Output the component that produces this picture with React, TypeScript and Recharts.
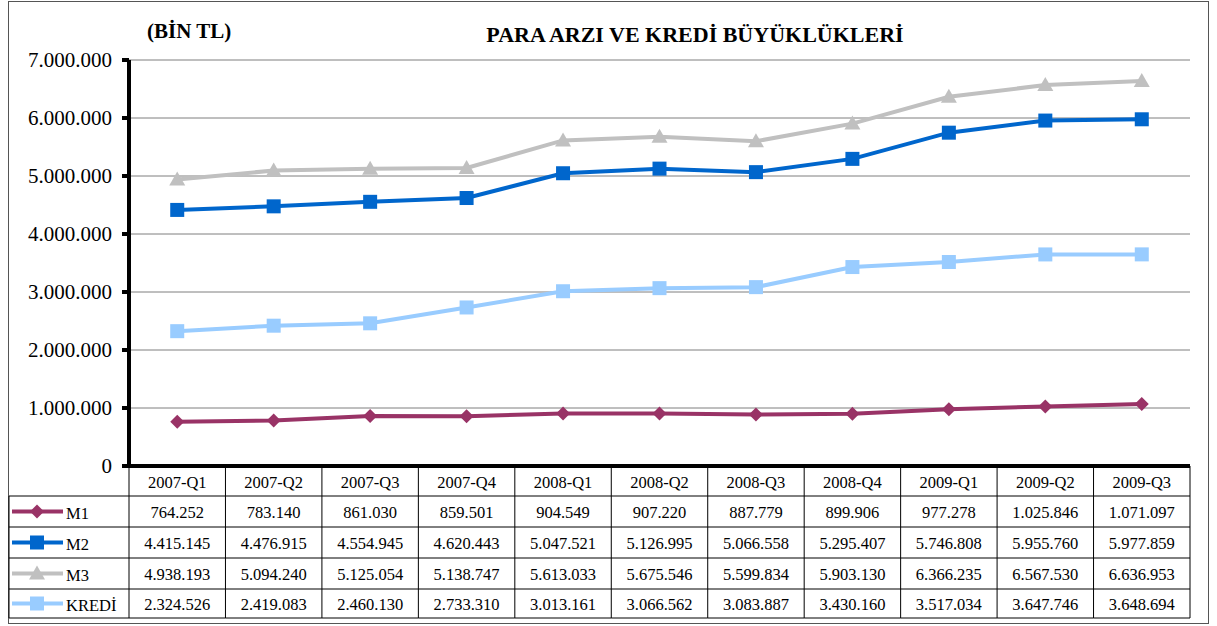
import React from 'react';
import { ComposedChart, Line, XAxis, YAxis, CartesianGrid } from 'recharts';

const quarters = ['2007-Q1', '2007-Q2', '2007-Q3', '2007-Q4', '2008-Q1', '2008-Q2', '2008-Q3', '2008-Q4', '2009-Q1', '2009-Q2', '2009-Q3'];
const m1 = [764252, 783140, 861030, 859501, 904549, 907220, 887779, 899906, 977278, 1025846, 1071097];
const m2 = [4415145, 4476915, 4554945, 4620443, 5047521, 5126995, 5066558, 5295407, 5746808, 5955760, 5977859];
const m3 = [4938193, 5094240, 5125054, 5138747, 5613033, 5675546, 5599834, 5903130, 6366235, 6567530, 6636953];
const kredi = [2324526, 2419083, 2460130, 2733310, 3013161, 3066562, 3083887, 3430160, 3517034, 3647746, 3648694];
const yTicks = [0, 1000000, 2000000, 3000000, 4000000, 5000000, 6000000, 7000000];

const series = [
    { key: 'M1', label: 'M1', values: m1, color: '#993366', shape: 'diamond' },
    { key: 'M2', label: 'M2', values: m2, color: '#0066CC', shape: 'square' },
    { key: 'M3', label: 'M3', values: m3, color: '#C0C0C0', shape: 'triangle' },
    { key: 'KREDI', label: 'KREDİ', values: kredi, color: '#99CCFF', shape: 'square' },
];

const data = quarters.map((q, i) => ({ q, M1: m1[i], M2: m2[i], M3: m3[i], KREDI: kredi[i] }));

const fmt = (n: number) => String(n).replace(/\B(?=(\d{3})+(?!\d))/g, '.');

const FONT = "'Liberation Serif', serif";
const PLOT_LEFT = 129;
const PLOT_RIGHT = 1190;
const COL_W = (PLOT_RIGHT - PLOT_LEFT) / quarters.length;
const TABLE_LEFT = 9;
const ROWS = [0, 30, 61, 92, 123, 152];

function marker(shape: string, color: string, cx: number, cy: number, key?: any) {
    if (shape === 'diamond') {
        return <polygon key={key} points={`${cx},${cy - 7} ${cx + 7},${cy} ${cx},${cy + 7} ${cx - 7},${cy}`} fill={color} />;
    }
    if (shape === 'triangle') {
        return <polygon key={key} points={`${cx},${cy - 8} ${cx + 8},${cy + 6} ${cx - 8},${cy + 6}`} fill={color} />;
    }
    return <rect key={key} x={cx - 7} y={cy - 7} width={14} height={14} fill={color} />;
}

const makeDot = (shape: string, color: string) => (props: any) => {
    const { cx, cy, index } = props;
    return marker(shape, color, cx, cy, `d-${index}`);
};

// x-axis ticks draw the data table below the plot, one column per quarter
const TableTick = (props: any) => {
    const { x, y, payload, index } = props;
    const i = payload?.index ?? index;
    const left = x - COL_W / 2;
    const right = x + COL_W / 2;
    const line = { stroke: '#000', strokeWidth: 1 };
    return (
        <g>
            <line x1={left} y1={y} x2={left} y2={y + ROWS[5]} {...line} />
            {i === quarters.length - 1 && <line x1={right} y1={y} x2={right} y2={y + ROWS[5]} {...line} />}
            {ROWS.slice(1).map((r) => (
                <line key={r} x1={left} y1={y + r} x2={right} y2={y + r} {...line} />
            ))}
            <text x={x} y={y + 16} textAnchor="middle" dominantBaseline="central" fontSize={16.5} fill="#000" fontFamily={FONT}>
                {payload.value}
            </text>
            {series.map((s, k) => (
                <text key={s.key} x={x} y={y + (ROWS[k + 1] + ROWS[k + 2]) / 2 + 1} textAnchor="middle" dominantBaseline="central" fontSize={16.5} fill="#000" fontFamily={FONT}>
                    {fmt(s.values[i])}
                </text>
            ))}
            {i === 0 && (
                <g>
                    <line x1={TABLE_LEFT} y1={y + ROWS[1]} x2={TABLE_LEFT} y2={y + ROWS[5]} {...line} />
                    {ROWS.slice(1).map((r) => (
                        <line key={r} x1={TABLE_LEFT} y1={y + r} x2={left} y2={y + r} {...line} />
                    ))}
                    {series.map((s, k) => {
                        const cy = y + (ROWS[k + 1] + ROWS[k + 2]) / 2;
                        return (
                            <g key={s.key}>
                                <line x1={12} y1={cy} x2={63} y2={cy} stroke={s.color} strokeWidth={4} />
                                {marker(s.shape, s.color, 37, cy)}
                                <text x={66} y={cy + 2} dominantBaseline="central" fontSize={16.5} fill="#000" fontFamily={FONT}>
                                    {s.label}
                                </text>
                            </g>
                        );
                    })}
                </g>
            )}
        </g>
    );
};

export default function App() {
    return (
        <div style={{ position: 'absolute', left: 0, top: 0, width: 1217, height: 626, background: '#fff', fontFamily: FONT }}>
            <div style={{ position: 'absolute', left: 8, top: 1, width: 1199, height: 621, border: '1px solid #555' }} />
            <svg width={1217} height={60} style={{ position: 'absolute', left: 0, top: 0 }}>
                <text x={147} y={38} fontSize={21} fontWeight="bold" fontFamily={FONT} fill="#000">(BİN TL)</text>
                <text x={695} y={42} textAnchor="middle" fontSize={22} fontWeight="bold" fontFamily={FONT} fill="#000">
                    PARA ARZI VE KREDİ BÜYÜKLÜKLERİ
                </text>
            </svg>
            <div style={{ position: 'absolute', left: 0, top: 0 }}>
                <ComposedChart width={1217} height={626} data={data} margin={{ top: 60, right: 1217 - PLOT_RIGHT, bottom: 5, left: 9 }} style={{ fontFamily: FONT }}>
                    <CartesianGrid vertical={false} stroke="#7f7f7f" strokeWidth={1} />
                    <XAxis
                        dataKey="q"
                        scale="band"
                        height={155}
                        interval={0}
                        tickSize={0}
                        tickMargin={0}
                        tickLine={false}
                        axisLine={{ stroke: '#000', strokeWidth: 4 }}
                        tick={TableTick}
                    />
                    <YAxis
                        width={PLOT_LEFT - 9}
                        domain={[0, 7000000]}
                        ticks={yTicks}
                        interval={0}
                        tickFormatter={fmt}
                        tickSize={7}
                        tickMargin={10}
                        axisLine={{ stroke: '#000', strokeWidth: 4 }}
                        tickLine={{ stroke: '#000', strokeWidth: 4 }}
                        tick={{ fill: '#000', fontSize: 21, fontFamily: FONT }}
                    />
                    {series.map((s) => (
                        <Line
                            key={s.key}
                            dataKey={s.key}
                            stroke={s.color}
                            strokeWidth={4}
                            dot={makeDot(s.shape, s.color)}
                            activeDot={false}
                            isAnimationActive={false}
                        />
                    ))}
                </ComposedChart>
            </div>
        </div>
    );
}
